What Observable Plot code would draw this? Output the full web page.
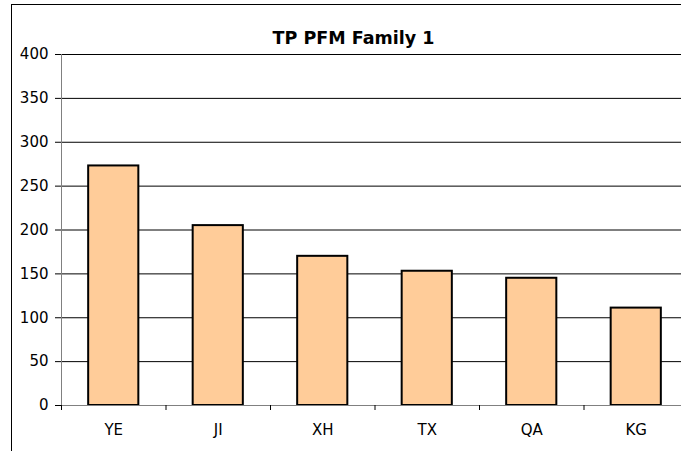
<!DOCTYPE html>
<html>
<head>
<meta charset="utf-8">
<script src="https://cdn.jsdelivr.net/npm/d3@7"></script>
<script src="https://cdn.jsdelivr.net/npm/@observablehq/plot@0.6"></script>
<style>
  html, body { margin: 0; padding: 0; background: #fff; overflow: hidden; width: 681px; height: 451px; }
  #wrap { position: relative; width: 700px; height: 451px; }
  #chart { position: absolute; left: 0; top: 0; }
  #frame { position: absolute; left: 11px; top: 4px; width: 700px; height: 460px;
           border-top: 1px solid #000; border-left: 1px solid #000; pointer-events: none; }
  #title { position: absolute; left: 0; width: 707px; top: 30px; text-align: center;
           font-family: "DejaVu Sans", Verdana, sans-serif; font-weight: bold; font-size: 17.5px; line-height: 17.5px; color: #000; }
</style>
</head>
<body>
<div id="wrap">
  <div id="chart"></div>
  <div id="frame"></div>
  <div id="title">TP PFM Family 1</div>
</div>
<script>
const categories = ["YE", "JI", "XH", "TX", "QA", "KG"];
const values = [273, 205, 170, 153, 145, 111];
const yTicks = [0, 50, 100, 150, 200, 250, 300, 350, 400];

const data = categories.map((c, i) => ({cat: c, value: values[i]}));

const W = 700, H = 451, ML = 61, MR = 12, MT = 54, MB = 46;
const halfStep = (W - ML - MR) / categories.length / 2;

const chart = Plot.plot({
  width: W,
  height: H,
  marginLeft: ML,
  marginRight: MR,
  marginTop: MT,
  marginBottom: MB,
  style: {maxWidth: "none", background: "transparent", fontFamily: "DejaVu Sans, Verdana, sans-serif", fontSize: "15px", color: "#000"},
  x: {domain: categories, paddingInner: 0.52, paddingOuter: 0.26, align: 0.5, round: false, label: null},
  y: {domain: [0, 400], label: null},
  marks: [
    Plot.gridY(yTicks, {stroke: "#000", strokeOpacity: 1, strokeWidth: 1}),
    Plot.barY(data, {x: "cat", y: "value", fill: "#FFCC99", stroke: "#000", strokeWidth: 2}),
    Plot.ruleY([0], {stroke: "#808080", strokeWidth: 1}),
    Plot.frame({anchor: "left", stroke: "#808080", strokeWidth: 1}),
    Plot.axisY(yTicks, {tickSize: 6, tickPadding: 7, stroke: "#000", fontSize: 15, label: null}),
    Plot.axisX({tickSize: 5, dx: -halfStep, text: null, stroke: "#000", label: null}),
    Plot.axisX({tickSize: 0, tickPadding: 19, fontSize: 15, label: null})
  ]
});
document.getElementById("chart").appendChild(chart);
</script>
</body>
</html>
